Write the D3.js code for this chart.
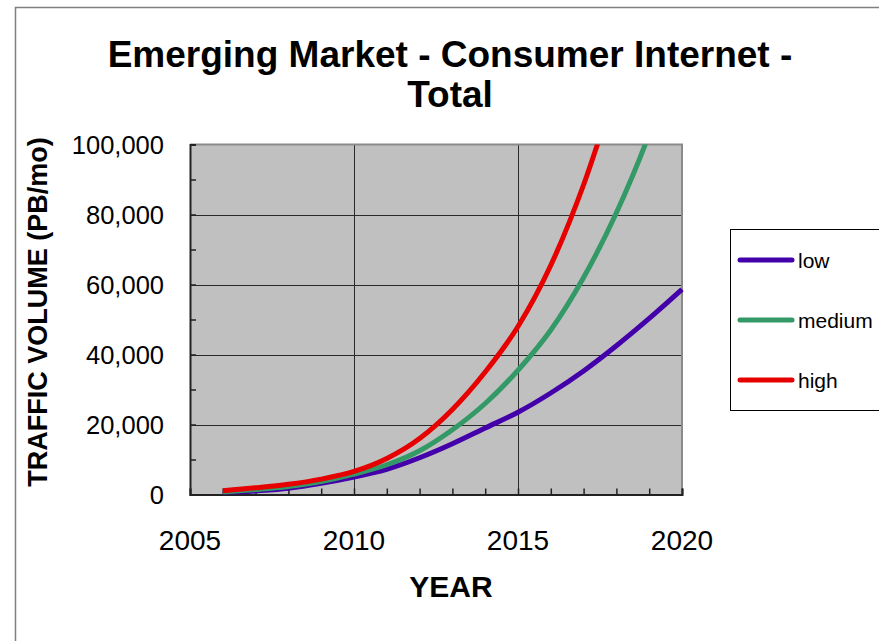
<!DOCTYPE html>
<html>
<head>
<meta charset="utf-8">
<script src="https://d3js.org/d3.v7.min.js"></script>
<style>
	html, body { margin: 0; padding: 0; background: #fff; }
	svg { display: block; font-family: 'Liberation Sans', Arial, sans-serif; }
</style>
</head>
<body>
<div id="chart"></div>
<script>
// Chart data (PB/mo)
const years = [2006, 2007, 2008, 2009, 2010, 2011, 2012, 2013, 2014, 2015, 2016, 2017, 2018, 2019, 2020];
const lowValues = [400, 1000, 1800, 3200, 5000, 7200, 10500, 14500, 19000, 23500, 29000, 35300, 42500, 50300, 58600];
const mediumValues = [700, 1400, 2300, 3700, 5800, 8500, 12500, 18500, 26000, 35500, 47000, 62000, 80500, 103000, 131000];
const highValues = [1100, 1900, 2900, 4400, 6600, 10300, 16000, 24300, 35000, 48000, 65500, 88500, 117000];
const seriesNames = ['low', 'medium', 'high'];
const seriesColors = ['#4300aa', '#339966', '#e60000'];
const yTicks = [0, 20000, 40000, 60000, 80000, 100000];
const xTicks = [2005, 2010, 2015, 2020];

const chartTitle = ['Emerging Market - Consumer Internet -', 'Total'];
const xTitle = 'YEAR';
const yTitle = 'TRAFFIC VOLUME (PB/mo)';

const series = [lowValues, mediumValues, highValues].map((values, i) => {
	return { 'name': seriesNames[i], 'color': seriesColors[i], 'values': values.map((v, j) => [years[j], v]) };
});

const width = 879, height = 641;
const plot = { 'left': 190, 'right': 682, 'top': 144.5, 'bottom': 494.5 };

const svg = d3.select('#chart').append('svg')
	.attr('width', width)
	.attr('height', height);

// Outer chart frame
svg.append('rect')
	.attr('x', 15.5)
	.attr('y', 7.5)
	.attr('width', width + 10)
	.attr('height', height + 10)
	.style('fill', '#fff')
	.style('stroke', '#808080')
	.style('stroke-width', 1.5);

const x = d3.scaleLinear().domain([2005, 2020]).range([plot.left, plot.right]);
const y = d3.scaleLinear().domain([0, 100000]).range([plot.bottom, plot.top]);

// Plot area
svg.append('rect')
	.attr('x', plot.left)
	.attr('y', plot.top)
	.attr('width', plot.right - plot.left)
	.attr('height', plot.bottom - plot.top)
	.style('fill', '#c0c0c0');

// Gridlines
svg.append('g').selectAll('line')
	.data(yTicks.filter(d => d > 0 && d < 100000))
.join('line')
	.attr('x1', plot.left)
	.attr('x2', plot.right)
	.attr('y1', d => Math.round(y(d)) + 0.5)
	.attr('y2', d => Math.round(y(d)) + 0.5)
	.style('stroke', '#2a2a2a')
	.style('stroke-width', 1);

svg.append('g').selectAll('line')
	.data(xTicks.filter(d => d > 2005 && d < 2020))
.join('line')
	.attr('x1', d => Math.round(x(d)) + 0.5)
	.attr('x2', d => Math.round(x(d)) + 0.5)
	.attr('y1', plot.top)
	.attr('y2', plot.bottom)
	.style('stroke', '#2a2a2a')
	.style('stroke-width', 1);

// Top and right border of the plot area
svg.append('path')
	.attr('d', 'M' + plot.left + ',' + plot.top + 'H' + plot.right + 'V' + plot.bottom)
	.style('fill', 'none')
	.style('stroke', '#8a8a8a')
	.style('stroke-width', 2);

// Axes with inner ticks
const yAxis = d3.axisLeft(y)
	.tickValues(d3.range(0, 100001, 10000))
	.tickSize(-6)
	.tickFormat('');
svg.append('g')
	.attr('transform', 'translate(' + plot.left + ',0)')
	.call(yAxis)
	.call(g => g.select('.domain').style('stroke', '#222').style('stroke-width', 2))
	.call(g => g.selectAll('.tick line').style('stroke', '#222').style('stroke-width', 1.5));

const xAxis = d3.axisBottom(x)
	.tickValues(d3.range(2005, 2021, 1))
	.tickSize(-6)
	.tickFormat('');
svg.append('g')
	.attr('transform', 'translate(0,' + plot.bottom + ')')
	.call(xAxis)
	.call(g => g.select('.domain').style('stroke', '#222').style('stroke-width', 2))
	.call(g => g.selectAll('.tick line').style('stroke', '#222').style('stroke-width', 1.5));

// Tick labels
svg.append('g').selectAll('text')
	.data(yTicks)
.join('text')
	.attr('x', 164)
	.attr('y', d => y(d))
	.attr('dy', '0.36em')
	.attr('text-anchor', 'end')
	.style('font-size', '25.5px')
	.style('fill', '#000')
	.text(d => d3.format(',')(d));

svg.append('g').selectAll('text')
	.data(xTicks)
.join('text')
	.attr('x', d => x(d))
	.attr('y', 550)
	.attr('text-anchor', 'middle')
	.style('font-size', '28px')
	.style('fill', '#000')
	.text(d => d);

// Series lines, clipped to the plot area
svg.append('clipPath')
	.attr('id', 'plotClip')
.append('rect')
	.attr('x', plot.left)
	.attr('y', plot.top)
	.attr('width', plot.right - plot.left + 4)
	.attr('height', plot.bottom - plot.top);

const line = d3.line()
	.x(d => x(d[0]))
	.y(d => y(d[1]))
	.curve(d3.curveMonotoneX);

svg.append('g')
	.attr('clip-path', 'url(#plotClip)')
	.selectAll('path')
	.data(series)
.join('path')
	.attr('d', d => line(d.values))
	.style('fill', 'none')
	.style('stroke', d => d.color)
	.style('stroke-width', 5)
	.style('stroke-linejoin', 'round');

// Titles
svg.append('g').selectAll('text')
	.data(chartTitle)
.join('text')
	.attr('x', 450)
	.attr('y', (d, i) => 67 + i * 40)
	.attr('text-anchor', 'middle')
	.style('font-size', '37px')
	.style('font-weight', 'bold')
	.text(d => d);

svg.append('text')
	.attr('x', 451)
	.attr('y', 597)
	.attr('text-anchor', 'middle')
	.style('font-size', '30px')
	.style('font-weight', 'bold')
	.text(xTitle);

svg.append('text')
	.attr('transform', 'translate(47,' + 312 + ') rotate(-90)')
	.attr('text-anchor', 'middle')
	.style('font-size', '27px')
	.style('font-weight', 'bold')
	.text(yTitle);

// Legend
svg.append('rect')
	.attr('x', 730.5)
	.attr('y', 229.5)
	.attr('width', 200)
	.attr('height', 181)
	.style('fill', '#fff')
	.style('stroke', '#000')
	.style('stroke-width', 1);

const legendItem = svg.append('g').selectAll('g')
	.data(series)
.join('g')
	.attr('transform', (d, i) => 'translate(0,' + (260 + i * 60) + ')');

legendItem.append('line')
	.attr('x1', 740)
	.attr('x2', 792)
	.style('stroke', d => d.color)
	.style('stroke-width', 5)
	.style('stroke-linecap', 'round');

legendItem.append('text')
	.attr('x', 798)
	.attr('dy', '0.36em')
	.style('font-size', '21px')
	.text(d => d.name);
</script>
</body>
</html>
